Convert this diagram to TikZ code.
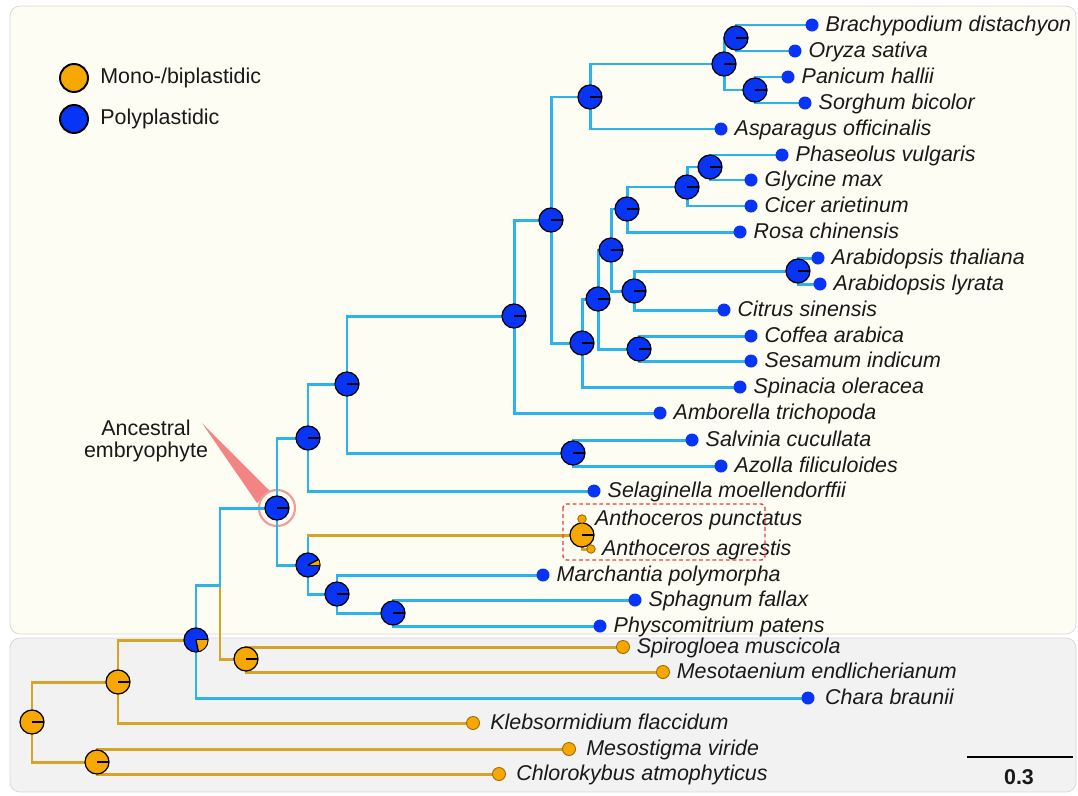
\documentclass[tikz,border=0pt]{standalone}
\usepackage{fontspec}
\setmainfont{Liberation Sans}
\usetikzlibrary{positioning,backgrounds}

\definecolor{polyblue}{RGB}{8,52,245}
\definecolor{monoorange}{RGB}{247,168,0}
\definecolor{monoedge}{RGB}{160,105,0}
\definecolor{branchcyan}{RGB}{43,180,236}
\definecolor{branchgold}{RGB}{214,164,38}
\definecolor{upperbg}{RGB}{253,253,243}
\definecolor{lowerbg}{RGB}{242,242,242}
\definecolor{panelline}{RGB}{214,214,214}
\definecolor{pointerred}{RGB}{243,132,132}
\definecolor{ringred}{RGB}{240,155,150}
\definecolor{boxred}{RGB}{232,64,60}
\definecolor{inkgray}{RGB}{25,25,25}

\tikzset{
  bb/.style={draw=branchcyan, line width=1.7pt, line cap=rect},
  ob/.style={draw=branchgold, line width=1.7pt, line cap=rect},
  nodepie/.style={circle, draw=black, line width=0.7pt, fill=polyblue,
    minimum size=0.48cm, inner sep=0pt,
    path picture={\draw[black, line width=0.7pt] (path picture bounding box.center) -- (path picture bounding box.east);}},
  monopie/.style={nodepie, fill=monoorange},
  leafdot/.style={circle, fill=polyblue, minimum size=0.26cm, inner sep=0pt},
  monodot/.style={circle, fill=monoorange, draw=monoedge, line width=0.5pt, minimum size=0.26cm, inner sep=0pt},
  smalldot/.style={monodot, minimum size=0.17cm},
  legdot/.style={circle, draw=black, line width=1.1pt, minimum size=0.56cm, inner sep=0pt},
  taxon/.style={font=\fontsize{12.2}{13}\selectfont\itshape, text=inkgray, inner sep=0pt,
    text height=9.3pt, text depth=2pt},
  legtext/.style={font=\fontsize{12.2}{13}\selectfont, text=inkgray, inner sep=0pt},
}

\begin{document}
\begin{tikzpicture}[x=0.02cm, y=-0.02cm]
\useasboundingbox (0,0) rectangle (1078,795);

% legend
\node[legdot, fill=monoorange] (legmono) at (74,78) {};
\node[legtext, right=0.22cm of legmono] (legmonotext) {Mono-/biplastidic};
\node[legdot, fill=polyblue] (legpoly) at (74,119) {};
\node[legtext, right=0.22cm of legpoly] (legpolytext) {Polyplastidic};
\node[legtext, align=center] (anclabel) at (146,441) {Ancestral\\embryophyte};

% internal nodes
\node[nodepie] (bo) at (736,38) {};
\node[nodepie] (ps) at (755,90) {};
\node[nodepie] (grass) at (724,64) {};
\node[nodepie] (mono) at (590,97) {};
\node[nodepie] (pg) at (710,167) {};
\node[nodepie] (pgc) at (687,187) {};
\node[nodepie] (fab) at (627,209) {};
\node[nodepie] (arab) at (798,271) {};
\node[nodepie] (arc) at (634,291) {};
\node[nodepie] (rosid) at (611,250) {};
\node[nodepie] (cs) at (639,349) {};
\node[nodepie] (core) at (598,299) {};
\node[nodepie] (eudi) at (582,343) {};
\node[nodepie] (mesang) at (551,220) {};
\node[nodepie] (angio) at (514,316) {};
\node[nodepie] (fern) at (573,453) {};
\node[nodepie] (euphyl) at (347,384) {};
\node[nodepie] (trach) at (308,438) {};
\node[nodepie] (embryo) at (277,508) {};
\node[monopie] (anth) at (582,535) {};
\node[nodepie] (moss) at (393,613) {};
\node[nodepie] (seta) at (337,594) {};
\node[nodepie] (bryo) at (308,565) {};
\node[monopie] (zyg) at (246,659) {};
\coordinate (ez) at (220,585);
\node[nodepie] (strept) at (196,640) {};
\node[monopie] (ks) at (118,682) {};
\node[monopie] (mc) at (97,762) {};
\node[monopie] (root) at (32,722) {};

% tips
\node[leafdot] (brachy) at (812,25) {};
\node[leafdot] (oryza) at (795,51) {};
\node[leafdot] (panicum) at (788,77) {};
\node[leafdot] (sorghum) at (805,103) {};
\node[leafdot] (aspar) at (721,129) {};
\node[leafdot] (phaseo) at (782,155) {};
\node[leafdot] (glycine) at (751,180) {};
\node[leafdot] (cicer) at (751,206) {};
\node[leafdot] (rosa) at (740,232) {};
\node[leafdot] (athal) at (818,258) {};
\node[leafdot] (alyr) at (820,284) {};
\node[leafdot] (citrus) at (724,310) {};
\node[leafdot] (coffea) at (751,336) {};
\node[leafdot] (sesamum) at (751,361) {};
\node[leafdot] (spinacia) at (740,387) {};
\node[leafdot] (ambo) at (660,413) {};
\node[leafdot] (salvinia) at (692,440) {};
\node[leafdot] (azolla) at (721,466) {};
\node[leafdot] (selag) at (594,491) {};
\node[smalldot] (apunct) at (582,519) {};
\node[smalldot] (agrest) at (591,549) {};
\node[leafdot] (marchantia) at (543,575) {};
\node[leafdot] (sphagnum) at (635,600) {};
\node[leafdot] (physco) at (600,626) {};
\node[monodot] (spiro) at (623,647) {};
\node[monodot] (meso) at (663,672) {};
\node[leafdot] (chara) at (808,698) {};
\node[monodot] (klebs) at (473,723) {};
\node[monodot] (mesostig) at (569,749) {};
\node[monodot] (chloro) at (499,774) {};

\node[taxon, right=0.13cm of brachy] {Brachypodium distachyon};
\node[taxon, right=0.13cm of oryza] {Oryza sativa};
\node[taxon, right=0.13cm of panicum] {Panicum hallii};
\node[taxon, right=0.13cm of sorghum] {Sorghum bicolor};
\node[taxon, right=0.13cm of aspar] {Asparagus officinalis};
\node[taxon, right=0.13cm of phaseo] {Phaseolus vulgaris};
\node[taxon, right=0.13cm of glycine] {Glycine max};
\node[taxon, right=0.13cm of cicer] {Cicer arietinum};
\node[taxon, right=0.13cm of rosa] {Rosa chinensis};
\node[taxon, right=0.13cm of athal] {Arabidopsis thaliana};
\node[taxon, right=0.13cm of alyr] {Arabidopsis lyrata};
\node[taxon, right=0.13cm of citrus] {Citrus sinensis};
\node[taxon, right=0.13cm of coffea] {Coffea arabica};
\node[taxon, right=0.13cm of sesamum] {Sesamum indicum};
\node[taxon, right=0.13cm of spinacia] {Spinacia oleracea};
\node[taxon, right=0.13cm of ambo] {Amborella trichopoda};
\node[taxon, right=0.13cm of salvinia] {Salvinia cucullata};
\node[taxon, right=0.13cm of azolla] {Azolla filiculoides};
\node[taxon, right=0.13cm of selag] {Selaginella moellendorffii};
\node[taxon, right=0.16cm of apunct] {Anthoceros punctatus};
\node[taxon, right=0.12cm of agrest] {Anthoceros agrestis};
\node[taxon, right=0.13cm of marchantia] {Marchantia polymorpha};
\node[taxon, right=0.13cm of sphagnum] {Sphagnum fallax};
\node[taxon, right=0.13cm of physco] {Physcomitrium patens};
\node[taxon, right=0.13cm of spiro] {Spirogloea muscicola};
\node[taxon, right=0.13cm of meso] {Mesotaenium endlicherianum};
\node[taxon, right=0.2cm of chara] {Chara braunii};
\node[taxon, right=0.2cm of klebs] {Klebsormidium flaccidum};
\node[taxon, right=0.2cm of mesostig] {Mesostigma viride};
\node[taxon, right=0.2cm of chloro] {Chlorokybus atmophyticus};

\begin{scope}[on background layer]
  \draw[panelline, fill=upperbg, rounded corners=0.2cm] (10,6) rectangle (1076,634);
  \draw[panelline, fill=lowerbg, rounded corners=0.2cm] (10,638) rectangle (1076,792);
  \fill[pointerred] (202,423) -- (270,491) -- (257,503) -- cycle;
  \draw[ringred, line width=1.2pt] (embryo.center) circle[radius=0.36cm];
  % branches
  \draw[bb] (bo.center) |- (brachy.center);
  \draw[bb] (bo.center) |- (oryza.center);
  \draw[bb] (ps.center) |- (panicum.center);
  \draw[bb] (ps.center) |- (sorghum.center);
  \draw[bb] (grass.center) |- (bo.center);
  \draw[bb] (grass.center) |- (ps.center);
  \draw[bb] (mono.center) |- (grass.center);
  \draw[bb] (mono.center) |- (aspar.center);
  \draw[bb] (pg.center) |- (phaseo.center);
  \draw[bb] (pg.center) |- (glycine.center);
  \draw[bb] (pgc.center) |- (pg.center);
  \draw[bb] (pgc.center) |- (cicer.center);
  \draw[bb] (fab.center) |- (pgc.center);
  \draw[bb] (fab.center) |- (rosa.center);
  \draw[bb] (arab.center) |- (athal.center);
  \draw[bb] (arab.center) |- (alyr.center);
  \draw[bb] (arc.center) |- (arab.center);
  \draw[bb] (arc.center) |- (citrus.center);
  \draw[bb] (rosid.center) |- (fab.center);
  \draw[bb] (rosid.center) |- (arc.center);
  \draw[bb] (cs.center) |- (coffea.center);
  \draw[bb] (cs.center) |- (sesamum.center);
  \draw[bb] (core.center) |- (rosid.center);
  \draw[bb] (core.center) |- (cs.center);
  \draw[bb] (eudi.center) |- (core.center);
  \draw[bb] (eudi.center) |- (spinacia.center);
  \draw[bb] (mesang.center) |- (mono.center);
  \draw[bb] (mesang.center) |- (eudi.center);
  \draw[bb] (angio.center) |- (mesang.center);
  \draw[bb] (angio.center) |- (ambo.center);
  \draw[bb] (fern.center) |- (salvinia.center);
  \draw[bb] (fern.center) |- (azolla.center);
  \draw[bb] (euphyl.center) |- (angio.center);
  \draw[bb] (euphyl.center) |- (fern.center);
  \draw[bb] (trach.center) |- (euphyl.center);
  \draw[bb] (trach.center) |- (selag.center);
  \draw[bb] (embryo.center) |- (trach.center);
  \draw[bb] (embryo.center) |- (bryo.center);
  \draw[bb] (bryo.center) -- (bryo.center |- anth.center);
  \draw[ob] (bryo.center |- anth.center) -- (anth.center);
  \draw[ob] (anth.center) |- (apunct.center);
  \draw[ob] (anth.center) |- (agrest.center);
  \draw[bb] (bryo.center) |- (seta.center);
  \draw[bb] (seta.center) |- (marchantia.center);
  \draw[bb] (seta.center) |- (moss.center);
  \draw[bb] (moss.center) |- (sphagnum.center);
  \draw[bb] (moss.center) |- (physco.center);
  \draw[bb] (ez) |- (embryo.center);
  \draw[ob] (ez) |- (zyg.center);
  \draw[ob] (zyg.center) |- (spiro.center);
  \draw[ob] (zyg.center) |- (meso.center);
  \draw[bb] (strept.center) |- (ez);
  \draw[bb] (strept.center) |- (chara.center);
  \draw[ob] (ks.center) |- (strept.center);
  \draw[ob] (ks.center) |- (klebs.center);
  \draw[ob] (mc.center) |- (mesostig.center);
  \draw[ob] (mc.center) |- (chloro.center);
  \draw[ob] (root.center) |- (ks.center);
  \draw[ob] (root.center) |- (mc.center);
\end{scope}

% mixed pies
\fill[monoorange] (bryo.center) -- ++(0:0.23cm) arc[start angle=0, end angle=28, radius=0.23cm] -- cycle;
\draw[line width=0.7pt] (bryo.center) -- ++(28:0.24cm);
\fill[monoorange] (strept.center) -- ++(0:0.23cm) arc[start angle=0, end angle=-78, radius=0.23cm] -- cycle;
\draw[line width=0.7pt] (strept.center) -- ++(-78:0.24cm);

\draw[boxred, line width=0.8pt, dash pattern=on 2.2pt off 1.6pt, rounded corners=2pt] (563,504) rectangle (765,560);

% scale bar
\coordinate (sbleft) at (967,757);
\coordinate (sbright) at (1073,757);
\draw[line width=1.2pt] (sbleft) -- (sbright);
\node[legtext, font=\fontsize{12.2}{13}\selectfont\bfseries] (sblabel) at (1019,777) {0.3};
\end{tikzpicture}
\end{document}
